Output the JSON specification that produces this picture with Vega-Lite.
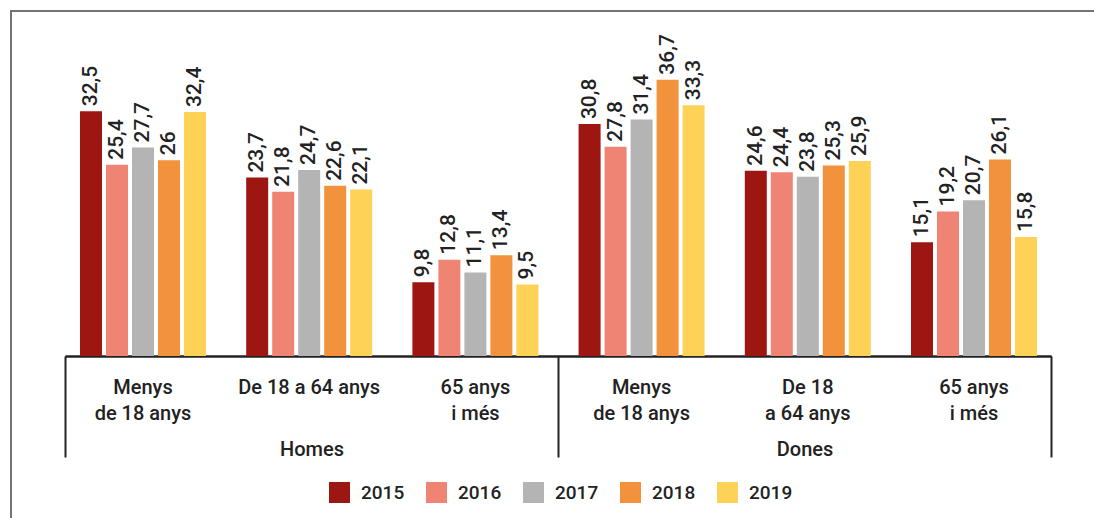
{
  "$schema": "https://vega.github.io/schema/vega-lite/v6.json",
  "autosize": "none",
  "width": 1083,
  "height": 507,
  "padding": {"left": 11, "top": 11, "right": 0, "bottom": 0},
  "config": {
    "locale": {"number": {"decimal": ",", "thousands": ".", "grouping": [3], "currency": ["", " €"]}},
    "view": {"stroke": "#737373", "strokeWidth": 2, "strokeDash": [1083, 1590, 507]},
    "font": "Roboto"
  },
  "data": {
    "values": [
      {"sexe": "Homes", "edat": "Menys|de 18 anys", "any": "2015", "valor": 32.5},
      {"sexe": "Homes", "edat": "Menys|de 18 anys", "any": "2016", "valor": 25.4},
      {"sexe": "Homes", "edat": "Menys|de 18 anys", "any": "2017", "valor": 27.7},
      {"sexe": "Homes", "edat": "Menys|de 18 anys", "any": "2018", "valor": 26},
      {"sexe": "Homes", "edat": "Menys|de 18 anys", "any": "2019", "valor": 32.4},
      {"sexe": "Homes", "edat": "De 18 a 64 anys", "any": "2015", "valor": 23.7},
      {"sexe": "Homes", "edat": "De 18 a 64 anys", "any": "2016", "valor": 21.8},
      {"sexe": "Homes", "edat": "De 18 a 64 anys", "any": "2017", "valor": 24.7},
      {"sexe": "Homes", "edat": "De 18 a 64 anys", "any": "2018", "valor": 22.6},
      {"sexe": "Homes", "edat": "De 18 a 64 anys", "any": "2019", "valor": 22.1},
      {"sexe": "Homes", "edat": "65 anys|i més", "any": "2015", "valor": 9.8},
      {"sexe": "Homes", "edat": "65 anys|i més", "any": "2016", "valor": 12.8},
      {"sexe": "Homes", "edat": "65 anys|i més", "any": "2017", "valor": 11.1},
      {"sexe": "Homes", "edat": "65 anys|i més", "any": "2018", "valor": 13.4},
      {"sexe": "Homes", "edat": "65 anys|i més", "any": "2019", "valor": 9.5},
      {"sexe": "Dones", "edat": "Menys|de 18 anys", "any": "2015", "valor": 30.8},
      {"sexe": "Dones", "edat": "Menys|de 18 anys", "any": "2016", "valor": 27.8},
      {"sexe": "Dones", "edat": "Menys|de 18 anys", "any": "2017", "valor": 31.4},
      {"sexe": "Dones", "edat": "Menys|de 18 anys", "any": "2018", "valor": 36.7},
      {"sexe": "Dones", "edat": "Menys|de 18 anys", "any": "2019", "valor": 33.3},
      {"sexe": "Dones", "edat": "De 18|a 64 anys", "any": "2015", "valor": 24.6},
      {"sexe": "Dones", "edat": "De 18|a 64 anys", "any": "2016", "valor": 24.4},
      {"sexe": "Dones", "edat": "De 18|a 64 anys", "any": "2017", "valor": 23.8},
      {"sexe": "Dones", "edat": "De 18|a 64 anys", "any": "2018", "valor": 25.3},
      {"sexe": "Dones", "edat": "De 18|a 64 anys", "any": "2019", "valor": 25.9},
      {"sexe": "Dones", "edat": "65 anys|i més", "any": "2015", "valor": 15.1},
      {"sexe": "Dones", "edat": "65 anys|i més", "any": "2016", "valor": 19.2},
      {"sexe": "Dones", "edat": "65 anys|i més", "any": "2017", "valor": 20.7},
      {"sexe": "Dones", "edat": "65 anys|i més", "any": "2018", "valor": 26.1},
      {"sexe": "Dones", "edat": "65 anys|i més", "any": "2019", "valor": 15.8}
    ]
  },
  "transform": [{"calculate": "datum.sexe + '/' + datum.edat", "as": "grup"}],
  "layer": [
    {
      "encoding": {
        "x": {
          "field": "grup", "type": "nominal", "sort": null,
          "scale": {"range": [54, 1040], "paddingInner": 0.2419, "paddingOuter": 0.0872, "align": 0.517},
          "axis": {
            "orient": "bottom", "offset": -162, "title": null, "ticks": false,
            "domain": true, "domainColor": "#222222", "domainWidth": 2,
            "labelAngle": 0, "labelFont": "Roboto", "labelFontSize": 20, "labelFontWeight": 500, "labelColor": "#222222",
            "labelLineHeight": 26, "labelPadding": 21,
            "labelExpr": "split(split(datum.label, '/')[1], '|')"
          }
        },
        "xOffset": {"field": "any", "type": "nominal", "scale": {"paddingInner": 0.1538, "paddingOuter": 0}},
        "y": {"field": "valor", "type": "quantitative", "scale": {"domain": [-21.51, 45.82], "nice": false}, "axis": null}
      },
      "layer": [
        {
          "mark": {"type": "bar"},
          "encoding": {
            "color": {
              "field": "any", "type": "nominal",
              "scale": {"domain": ["2015", "2016", "2017", "2018", "2019"], "range": ["#9d1612", "#f08474", "#b4b4b4", "#f2923d", "#fed256"]},
              "legend": {
                "orient": "none", "legendX": 318, "legendY": 471, "direction": "horizontal", "title": null,
                "symbolType": "square", "symbolSize": 441, "symbolStrokeWidth": 0, "symbolOpacity": 1,
                "labelFont": "Roboto", "labelFontSize": 19, "labelFontWeight": 500, "labelColor": "#222222", "labelOffset": 11,
                "columnPadding": 21, "padding": 0
              }
            }
          }
        },
        {
          "mark": {"type": "text", "angle": 270, "align": "left", "baseline": "middle", "dx": 5, "font": "Roboto", "fontSize": 21, "fontWeight": 500, "color": "#222222"},
          "encoding": {"text": {"field": "valor", "type": "quantitative", "format": ".1~f"}}
        }
      ]
    },
    {
      "mark": {"type": "point", "opacity": 0},
      "encoding": {
        "x": {
          "field": "sexe", "type": "nominal", "sort": null,
          "scale": {"range": [54, 1040], "paddingInner": 0, "paddingOuter": 0},
          "axis": {
            "orient": "bottom", "offset": -162, "title": null,
            "tickBand": "extent", "ticks": true, "tickSize": 101, "tickWidth": 2, "tickColor": "#222222",
            "domain": true, "domainColor": "#222222", "domainWidth": 2,
            "labelAngle": 0, "labelFont": "Roboto", "labelFontSize": 20, "labelFontWeight": 500, "labelColor": "#222222",
            "labelBaseline": "alphabetic", "labelPadding": -2
          }
        }
      }
    }
  ],
  "resolve": {"scale": {"x": "independent"}, "axis": {"x": "independent"}}
}
